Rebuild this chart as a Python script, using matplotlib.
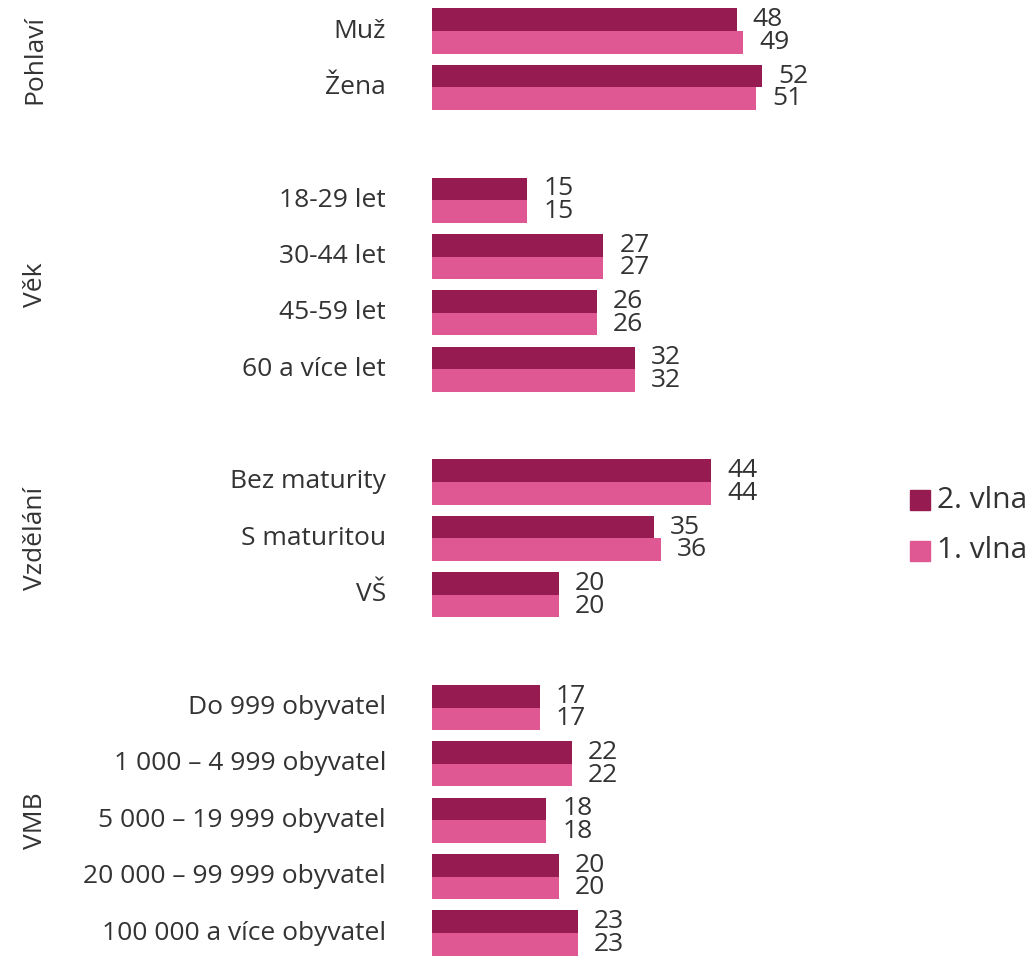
import matplotlib
matplotlib.use("Agg")
import matplotlib.pyplot as plt
from matplotlib.patches import Rectangle

plt.rcParams['font.family'] = ['Open Sans', 'DejaVu Sans']

groups = ["Pohlaví", "Věk", "Vzdělání", "VMB"]
categories = [
    ["Muž", "Žena"],
    ["18-29 let", "30-44 let", "45-59 let", "60 a více let"],
    ["Bez maturity", "S maturitou", "VŠ"],
    ["Do 999 obyvatel", "1 000 – 4 999 obyvatel", "5 000 – 19 999 obyvatel",
     "20 000 – 99 999 obyvatel", "100 000 a více obyvatel"],
]
wave2 = [[48, 52], [15, 27, 26, 32], [44, 35, 20], [17, 22, 18, 20, 23]]
wave1 = [[49, 51], [15, 27, 26, 32], [44, 36, 20], [17, 22, 18, 20, 23]]
series_names = ["2. vlna", "1. vlna"]

c_dark = "#961b51"
c_pink = "#e05893"
txt = "#333333"

W, H = 1032, 957
fig = plt.figure(figsize=(W / 100, H / 100), dpi=100)

x0_px = 432
px_per_unit = 6.35
xmax = 70
ax = fig.add_axes([x0_px / W, 0, px_per_unit * xmax / W, 1])

slot_px = 56.375
first_px = 31
ax.set_xlim(0, xmax)
ax.set_ylim((H - first_px) / slot_px, -first_px / slot_px)
ax.axis("off")

bh = 0.4
fs = 19
idx = 0
for g, cats, v2, v1 in zip(groups, categories, wave2, wave1):
    start = idx
    for cat, a, b in zip(cats, v2, v1):
        ax.barh(idx - bh / 2, a, height=bh, color=c_dark, edgecolor="none")
        ax.barh(idx + bh / 2, b, height=bh, color=c_pink, edgecolor="none")
        ax.annotate(str(a), (a, idx - bh / 2), xytext=(16, 0), textcoords="offset pixels",
                    ha="left", va="center", fontsize=fs, color=txt)
        ax.annotate(str(b), (b, idx + bh / 2), xytext=(16, 0), textcoords="offset pixels",
                    ha="left", va="center", fontsize=fs, color=txt)
        ax.annotate(cat, (0, idx), xytext=(-46, 0), textcoords="offset pixels",
                    ha="right", va="center", fontsize=fs, color=txt, annotation_clip=False)
        idx += 1
    mid = (start + idx - 1) / 2
    fig.text(35 / W, 1 - (first_px + mid * slot_px) / H, g, rotation=90,
             ha="center", va="center", fontsize=fs, color=txt)
    idx += 1

# legend
for i, (name, col) in enumerate(zip(series_names, [c_dark, c_pink])):
    yc = 500 + i * 51
    fig.patches.append(Rectangle((910 / W, 1 - (yc + 10) / H), 20 / W, 20 / H,
                                 transform=fig.transFigure, color=col))
    fig.text(937 / W, 1 - yc / H, name, ha="left", va="center", fontsize=21.5, color=txt)

fig.savefig("out.png", dpi=100)
